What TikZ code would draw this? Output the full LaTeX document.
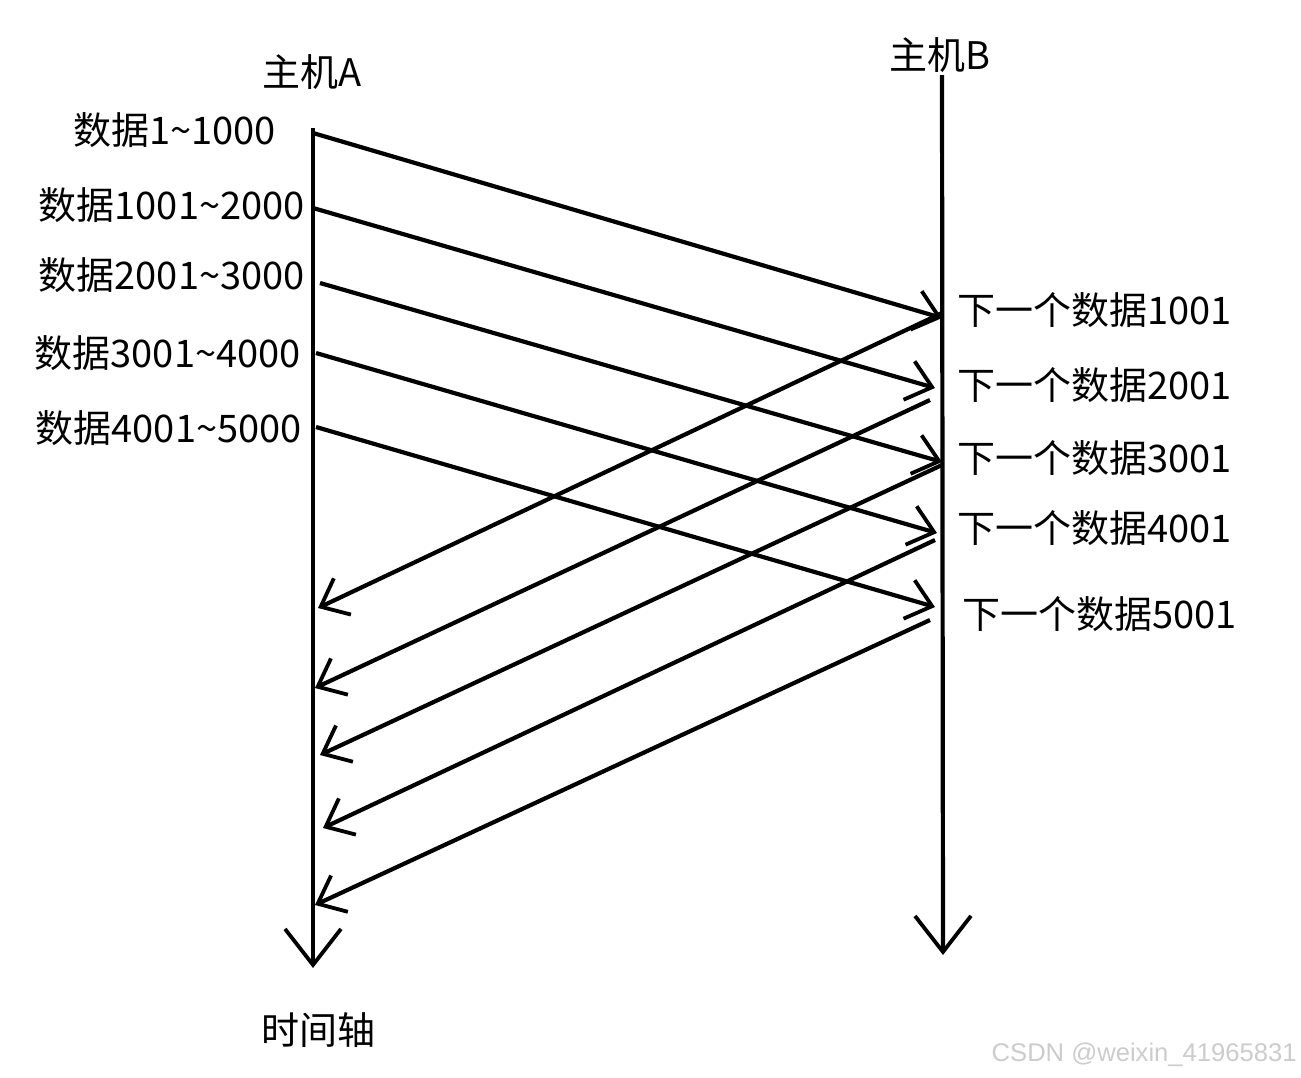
\documentclass[tikz,border=0pt]{standalone}
\usepackage{fontspec}
\newfontfamily\cjk{Noto Sans CJK SC}
\newfontfamily\wmfont{Liberation Sans}
\usetikzlibrary{arrows.meta}
\begin{document}
\begin{tikzpicture}[x=0.5pt,y=-0.5pt,
  lbl/.style={font=\cjk\fontsize{19}{21}\selectfont, inner sep=0pt},
  axis/.style={line width=2.1pt, -{Straight Barb[length=18pt,width=28pt,line width=1.9pt]}},
  msg/.style={line width=2.1pt, -{Straight Barb[length=12pt,width=20pt,line width=1.9pt]}}]
\useasboundingbox[fill=white] (0,0) rectangle (1301,1077);
% axes
\coordinate (At) at (313,128);
\coordinate (Ab) at (313,968);
\coordinate (Bt) at (942,75);
\coordinate (Bb) at (943,955);
\draw[axis] (At) -- (Ab);
\draw[axis] (Bt) -- (Bb);
% titles
\node[lbl] (hostA) at (312,72) {主机A};
\node[lbl] (hostB) at (940,55) {主机B};
\node[lbl] (timeax) at (318,1030) {时间轴};
% left labels
\node[lbl,anchor=east] (d1) at (276,130) {数据1\textasciitilde1000};
\node[lbl,anchor=east] (d2) at (305,205) {数据1001\textasciitilde2000};
\node[lbl,anchor=east] (d3) at (305,275) {数据2001\textasciitilde3000};
\node[lbl,anchor=east] (d4) at (301,353) {数据3001\textasciitilde4000};
\node[lbl,anchor=east] (d5) at (302,428) {数据4001\textasciitilde5000};
% right labels
\node[lbl,anchor=west] (n1) at (957,310) {下一个数据1001};
\node[lbl,anchor=west] (n2) at (957,385) {下一个数据2001};
\node[lbl,anchor=west] (n3) at (957,458) {下一个数据3001};
\node[lbl,anchor=west] (n4) at (957,528) {下一个数据4001};
\node[lbl,anchor=west] (n5) at (962,614) {下一个数据5001};
% data send points
\coordinate (s1) at (313,133);
\coordinate (s2) at (313,208);
\coordinate (s3) at (320,283);
\coordinate (s4) at (316,353);
\coordinate (s5) at (316,427);
\coordinate (r1) at (942,318);
\coordinate (r2) at (935,388);
\coordinate (r3) at (942,462);
\coordinate (r4) at (937,533);
\coordinate (r5) at (935,607);
\draw[msg] (s1) -- (r1);
\draw[msg] (s2) -- (r2);
\draw[msg] (s3) -- (r3);
\draw[msg] (s4) -- (r4);
\draw[msg] (s5) -- (r5);
% ack
\coordinate (k1) at (942,313);
\coordinate (k2) at (930,400);
\coordinate (k3) at (942,465);
\coordinate (k4) at (935,540);
\coordinate (k5) at (930,620);
\coordinate (a1) at (318,608);
\coordinate (a2) at (315,688);
\coordinate (a3) at (320,755);
\coordinate (a4) at (323,828);
\coordinate (a5) at (315,905);
\draw[msg] (k1) -- (a1);
\draw[msg] (k2) -- (a2);
\draw[msg] (k3) -- (a3);
\draw[msg] (k4) -- (a4);
\draw[msg] (k5) -- (a5);
% watermark
\node[font=\wmfont\fontsize{12.8}{14}\selectfont, text=black!20, anchor=east, inner sep=0pt] (wm) at (1297,1055) {CSDN @weixin\_41965831};
\end{tikzpicture}
\end{document}
